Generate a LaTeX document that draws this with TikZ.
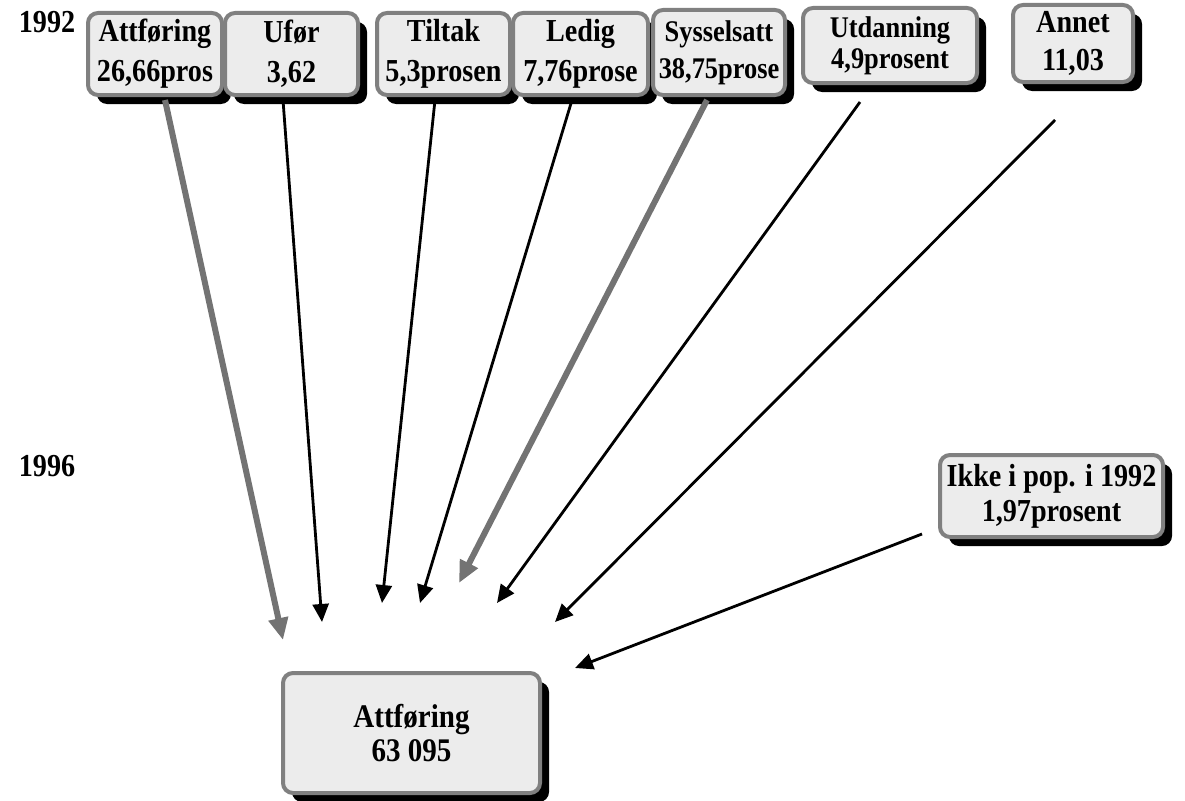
\documentclass[tikz,border=0pt]{standalone}
\usepackage{fontspec}
\setmainfont{Liberation Serif}
\newfontfamily\boxfont[FakeStretch=0.88]{Liberation Serif}
\usetikzlibrary{shadows,arrows.meta}
\begin{document}
\begin{tikzpicture}[x=1pt,y=-1pt,
  box/.style={draw=black!50, line width=4pt, fill=gray!15, rounded corners=10pt,
    align=center, inner sep=0pt,
    font=\boxfont\bfseries\fontsize{32}{40}\selectfont,
    drop shadow={shadow xshift=9pt, shadow yshift=-9pt, fill=black, opacity=1}},
  yr/.style={font=\boxfont\bfseries\fontsize{32}{36}\selectfont},
  conn/.style={line width=2.8pt, -{Triangle[length=18pt,width=16pt]}},
  bigconn/.style={draw=black!55, line width=6pt, -{Triangle[length=22pt,width=19pt]}}
]
\useasboundingbox (0,0) rectangle (1185,800);

% year labels
\node[yr] (y92) at (47,22) {1992};
\node[yr] (y96) at (47,466) {1996};

% top row
\node[box, minimum width=134pt, minimum height=82pt] (att) at (155,54) {Attføring\\26,66pros};
\node[box, minimum width=133pt, minimum height=82pt] (ufor) at (291.5,54) {Ufør\\3,62};
\node[box, minimum width=133pt, minimum height=82pt] (tilt) at (443.5,54) {Tiltak\\5,3prosen};
\node[box, minimum width=135pt, minimum height=82pt] (led) at (580.5,54) {Ledig\\7,76prose};
\node[box, font=\boxfont\bfseries\fontsize{30}{37}\selectfont, minimum width=132pt, minimum height=85pt] (sys) at (719,52.5) {Sysselsatt\\38,75prose};
\node[box, font=\boxfont\bfseries\fontsize{30}{31}\selectfont, minimum width=174pt, minimum height=75pt] (utd) at (890,45.5) {Utdanning\\4,9prosent};
\node[box, font=\boxfont\bfseries\fontsize{32}{38}\selectfont, minimum width=120pt, minimum height=77pt] (ann) at (1073,43.5) {Annet\\11,03};

% side box
\node[box, font=\boxfont\bfseries\fontsize{32}{35}\selectfont, minimum width=223pt, minimum height=82pt] (ikke) at (1051.5,496) {Ikke i pop. i 1992\\1,97prosent};

% target
\node[box, font=\boxfont\bfseries\fontsize{33}{34}\selectfont, minimum width=257pt, minimum height=120pt] (target) at (411.5,733) {Attføring\\63 095};

% connector ends
\coordinate (s1) at (165,100);  \coordinate (e1) at (283,640);
\coordinate (s2) at (283,100);  \coordinate (e2) at (322,622);
\coordinate (s3) at (435,100);  \coordinate (e3) at (382,603);
\coordinate (s4) at (572,100);  \coordinate (e4) at (420,603);
\coordinate (s5) at (707,100);  \coordinate (e5) at (459,583);
\coordinate (s6) at (860,102);  \coordinate (e6) at (497,603);
\coordinate (s7) at (1055,120); \coordinate (e7) at (555,622);
\coordinate (s8) at (922,534);  \coordinate (e8) at (575,668);

\draw[bigconn] (s1) -- (e1);
\draw[conn] (s2) -- (e2);
\draw[conn] (s3) -- (e3);
\draw[conn] (s4) -- (e4);
\draw[bigconn] (s5) -- (e5);
\draw[conn] (s6) -- (e6);
\draw[conn] (s7) -- (e7);
\draw[conn] (s8) -- (e8);
\end{tikzpicture}
\end{document}
